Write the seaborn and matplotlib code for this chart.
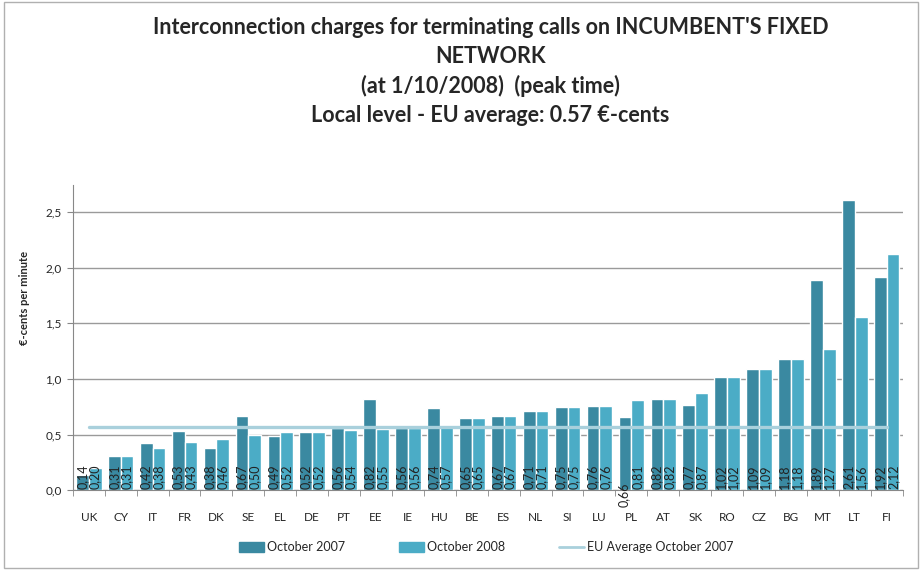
import matplotlib
matplotlib.use("Agg")
import matplotlib.pyplot as plt
import matplotlib.patches as mpatches
from matplotlib.lines import Line2D
import seaborn as sns
import pandas as pd

countries = ["UK", "CY", "IT", "FR", "DK", "SE", "EL", "DE", "PT", "EE", "IE", "HU", "BE",
             "ES", "NL", "SI", "LU", "PL", "AT", "SK", "RO", "CZ", "BG", "MT", "LT", "FI"]
oct_2007 = [0.14, 0.31, 0.42, 0.53, 0.38, 0.67, 0.49, 0.52, 0.56, 0.82, 0.56, 0.74, 0.65,
            0.67, 0.71, 0.75, 0.76, 0.66, 0.82, 0.77, 1.02, 1.09, 1.18, 1.89, 2.61, 1.92]
oct_2008 = [0.20, 0.31, 0.38, 0.43, 0.46, 0.50, 0.52, 0.52, 0.54, 0.55, 0.56, 0.57, 0.65,
            0.67, 0.71, 0.75, 0.76, 0.81, 0.82, 0.87, 1.02, 1.09, 1.18, 1.27, 1.56, 2.12]
eu_average = 0.57
series_names = ["October 2007", "October 2008"]
avg_name = "EU Average October 2007"
yticks = [0.0, 0.5, 1.0, 1.5, 2.0, 2.5]

colors = ["#3a89a1", "#4bacc6"]
avg_color = "#a9d0dc"

sns.set_style("white")
plt.rcParams["font.family"] = ["Lato", "DejaVu Sans"]

df = pd.DataFrame({
    "country": countries * 2,
    "value": oct_2007 + oct_2008,
    "period": [series_names[0]] * len(countries) + [series_names[1]] * len(countries),
})

fig = plt.figure(figsize=(9.22, 5.70), dpi=100)
ax = fig.add_axes([0.079, 0.14, 0.900, 0.535])

sns.barplot(data=df, x="country", y="value", hue="period", palette=colors,
            width=0.8, saturation=1, ax=ax, legend=False)

# EU average line from first to last category centre
ax.plot([0, len(countries) - 1], [eu_average, eu_average], color=avg_color, lw=2.4, zorder=3)

# value labels, rotated, at the foot of each bar
for i, cont in enumerate(ax.containers):
    vals = oct_2007 if i == 0 else oct_2008
    for bar, v, c in zip(cont.patches, vals, countries):
        x = bar.get_x() + bar.get_width() / 2
        txt = "{:.2f}".format(v).replace(".", ",")
        if c == "PL" and i == 0:
            ax.text(x - 0.05, -0.04, txt, rotation=90, ha="center", va="center",
                    fontsize=9, color="#222222")
        else:
            ax.text(x, 0.015, txt, rotation=90, ha="center", va="bottom",
                    fontsize=9, color="#222222")

ax.set_ylim(0, 2.74)
ax.set_xlim(-0.5, len(countries) - 0.5)
ax.set_yticks(yticks)
ax.set_yticklabels(["{:.1f}".format(t).replace(".", ",") for t in yticks], fontsize=8.5)
ax.yaxis.grid(True, color="#9a9a9a", lw=1)
ax.set_axisbelow(True)
ax.set_xlabel("")
ax.set_ylabel("€-cents per minute", fontsize=8, fontweight="bold")
ax.yaxis.set_label_coords(-0.052, 0.63)
ax.tick_params(axis="x", length=0, labelsize=8.5, pad=16)
ax.tick_params(axis="y", length=4, color="#888888", left=True, pad=4)
ax.set_xticks(range(len(countries)))
ax.set_xticks([i + 0.5 for i in range(-1, len(countries))], minor=True)
ax.tick_params(axis="x", which="minor", length=4, color="#888888", bottom=True)
for s in ["top", "right"]:
    ax.spines[s].set_visible(False)
for s in ["left", "bottom"]:
    ax.spines[s].set_color("#888888")

fig.suptitle("Interconnection charges for terminating calls on INCUMBENT'S FIXED\nNETWORK\n"
             "(at 1/10/2008)  (peak time)\nLocal level - EU average: 0.57 €-cents",
             x=0.532, y=0.97, fontsize=15.5, fontweight="bold", linespacing=1.45)

handles = [mpatches.Patch(color=colors[0], label=series_names[0]),
           mpatches.Patch(color=colors[1], label=series_names[1]),
           Line2D([0], [0], color=avg_color, lw=2, label=avg_name)]
fig.legend(handles=handles, loc="center", bbox_to_anchor=(0.527, 0.04), ncol=3,
           frameon=False, fontsize=9, handlelength=2.0, handleheight=0.8,
           columnspacing=4.3, handletextpad=0.25)

fig.patches.append(mpatches.Rectangle((0.004, 0.004), 0.992, 0.992, transform=fig.transFigure,
                                      fill=False, edgecolor="#b0b0b0", lw=1))

fig.savefig("out.png", dpi=100)
